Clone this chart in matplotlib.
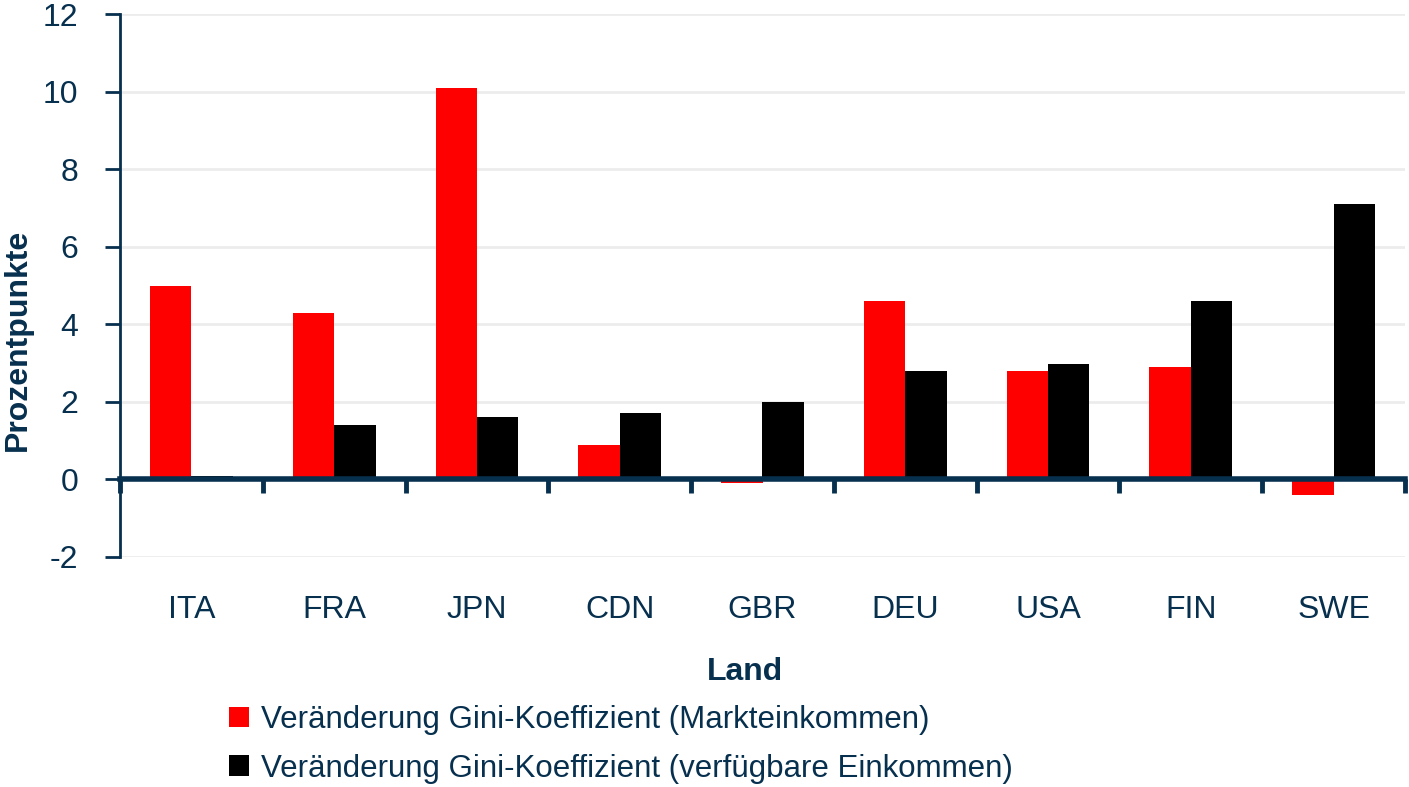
import matplotlib
matplotlib.use("Agg")
import matplotlib.pyplot as plt
import numpy as np
from matplotlib.patches import Patch

countries = ["ITA", "FRA", "JPN", "CDN", "GBR", "DEU", "USA", "FIN", "SWE"]
markt = [5.0, 4.3, 10.1, 0.9, -0.1, 4.6, 2.8, 2.9, -0.4]
verfueg = [0.1, 1.4, 1.6, 1.7, 2.0, 2.8, 2.97, 4.6, 7.1]
series_names = ["Veränderung Gini-Koeffizient (Markteinkommen)",
                "Veränderung Gini-Koeffizient (verfügbare Einkommen)"]
yticks = [-2, 0, 2, 4, 6, 8, 10, 12]

navy = "#07304f"
fs = 23
plt.rcParams['font.family'] = ['Liberation Sans', 'DejaVu Sans']

fig = plt.figure(figsize=(14.09, 7.87), dpi=100)
ax = fig.add_axes([120/1409, 1-557/787, (1405-120)/1409, (557-14)/787])

x = np.arange(len(countries))
w = 0.29
ax.bar(x - w/2, markt, w, color="#ff0000", zorder=3)
ax.bar(x + w/2, verfueg, w, color="#000000", zorder=3)

ax.set_xlim(-0.5, len(countries) - 0.5)
ax.set_ylim(-2, 12)
ax.set_yticks(yticks)
ax.set_yticklabels([str(t) for t in yticks])
ax.yaxis.grid(True, color="#ececec", linewidth=2, zorder=0)
ax.set_axisbelow(True)

for s in ["top", "right"]:
    ax.spines[s].set_visible(False)
ax.spines["left"].set_color(navy)
ax.spines["left"].set_linewidth(2)
ax.spines["bottom"].set_position(("data", 0))
ax.spines["bottom"].set_color(navy)
ax.spines["bottom"].set_linewidth(4)
ax.spines["bottom"].set_zorder(4)

ax.set_xticks(np.arange(len(countries) + 1) - 0.5)
ax.set_xticklabels([])
ax.tick_params(axis="x", direction="out", length=10, width=3.5, color=navy)
ax.tick_params(axis="y", direction="out", length=11, width=2, color=navy,
               labelsize=fs, labelcolor=navy, pad=19)

sec = ax.secondary_xaxis(0.0)
sec.set_xticks(x)
sec.set_xticklabels(countries)
sec.tick_params(length=0, labelsize=fs, labelcolor=navy, pad=27)
sec.spines["bottom"].set_visible(False)

fig.text(745/1409, 1-672/787, "Land", ha="center", va="center",
         fontsize=fs, fontweight="bold", color=navy)
fig.text(18/1409, 1-340/787, "Prozentpunkte", ha="center", va="center",
         rotation=90, fontsize=fs, fontweight="bold", color=navy)

handles = [Patch(facecolor="#ff0000"), Patch(facecolor="#000000")]
leg = fig.legend(handles, series_names, loc="upper left",
                 bbox_to_anchor=(229/1409, 1-705/787), frameon=False,
                 fontsize=fs - 0.5, handlelength=0.65, handleheight=0.65,
                 handletextpad=0.38, labelspacing=0.6, borderaxespad=0,
                 borderpad=0)
for t in leg.get_texts():
    t.set_color(navy)

fig.savefig("out.png", dpi=100)
